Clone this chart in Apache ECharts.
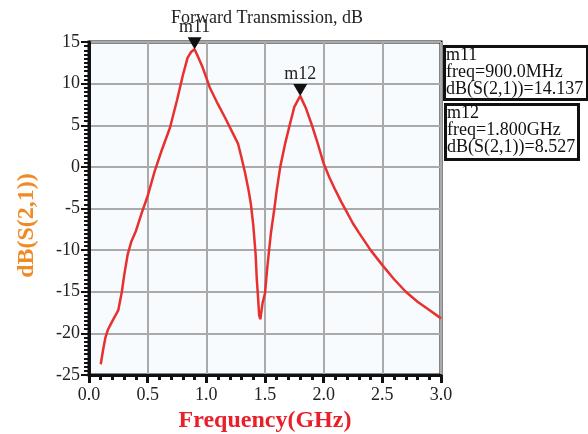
<!DOCTYPE html>
<html>
<head>
<meta charset="utf-8">
<script src="https://cdn.jsdelivr.net/npm/echarts@6/dist/echarts.min.js"></script>
<style>html,body{margin:0;padding:0;background:#fff;}#c{width:588px;height:434px;}</style>
</head>
<body>
<div id="c"></div>
<script>
var freqGHz = [0.10,0.12,0.14,0.16,0.20,0.25,0.28,0.30,0.33,0.36,0.40,0.45,0.50,0.56,0.62,0.69,0.75,0.80,0.84,0.87,0.90,0.93,0.97,1.03,1.10,1.16,1.22,1.27,1.30,1.33,1.36,1.38,1.40,1.42,1.43,1.44,1.45,1.46,1.48,1.50,1.52,1.55,1.58,1.60,1.63,1.67,1.71,1.75,1.80,1.85,1.90,1.95,2.00,2.05,2.10,2.15,2.20,2.25,2.30,2.40,2.50,2.60,2.70,2.80,2.90,3.00];
var s21dB = [-23.7,-22.0,-20.5,-19.6,-18.5,-17.2,-15.0,-13.0,-10.5,-9.0,-7.7,-5.5,-3.5,-0.5,2.0,4.7,8.0,11.0,13.1,13.8,14.137,13.2,11.9,9.5,7.5,5.9,4.2,2.8,1.1,-0.7,-2.8,-4.5,-7.0,-10.5,-13.5,-15.5,-17.8,-18.3,-16.3,-15.2,-12.0,-8.0,-5.0,-2.8,0.0,2.7,5.0,7.2,8.527,7.0,5.0,2.8,0.4,-1.3,-2.8,-4.2,-5.5,-6.8,-7.9,-10.0,-11.8,-13.5,-15.0,-16.2,-17.2,-18.2];
var markerNames = ['m11','m12'];
var markerFreqGHz = [0.9, 1.8];
var markerValues = [14.137, 8.527];
var xTickLabels = ['0.0','0.5','1.0','1.5','2.0','2.5','3.0'];
var yTicks = [-25,-20,-15,-10,-5,0,5,10,15];

var serif = '"Liberation Serif","DejaVu Serif",serif';
var lineData = freqGHz.map(function(f,i){return [f, s21dB[i]];});
function freqText(f){ return f < 1 ? (f*1000).toFixed(1)+'MHz' : f.toFixed(3)+'GHz'; }

var boxes = [
  {x:443, y:45, w:143, h:53},
  {x:444, y:103, w:133, h:55}
];
var graphics = [];
markerNames.forEach(function(n,i){
  var b = boxes[i];
  graphics.push({type:'rect', left:b.x, top:b.y, shape:{width:b.w, height:b.h},
    style:{fill:'#fff', stroke:'#111', lineWidth:3}, z:10});
  graphics.push({type:'text', left:b.x+3, top:b.y+1, z:11,
    style:{text:n+'\nfreq='+freqText(markerFreqGHz[i])+'\ndB(S(2,1))='+markerValues[i].toFixed(3),
      font:'18px '+serif, fill:'#111', lineHeight:17}});
});

var chart = echarts.init(document.getElementById('c'));
chart.setOption({
  animation:false,
  backgroundColor:'#fff',
  title:{text:'Forward Transmission, dB', left:262, top:4, textAlign:'center',
    textStyle:{fontFamily:serif, fontSize:18, fontWeight:'normal', color:'#222'}},
  grid:{left:89, right:147, top:42, bottom:59, containLabel:false, outerBoundsMode:'none',
    show:true, backgroundColor:'#f8fbfd', borderColor:'#111', borderWidth:3},
  xAxis:{type:'value', min:0, max:3, interval:0.5,
    name:'Frequency(GHz)', nameLocation:'middle', nameGap:30,
    nameTextStyle:{fontFamily:serif, fontSize:24, fontWeight:'bold', color:'#e8202a'},
    axisLine:{onZero:false, lineStyle:{color:'#111', width:3}},
    axisTick:{show:true, length:8, lineStyle:{color:'#111', width:3}},
    minorTick:{show:true, splitNumber:5, length:5, lineStyle:{color:'#111', width:3}},
    axisLabel:{fontFamily:serif, fontSize:18, color:'#222', margin:11,
      formatter:function(v){ var i=Math.round(v/0.5); return xTickLabels[i]; }},
    splitLine:{show:true, lineStyle:{color:'#aaa', width:2}}},
  yAxis:{type:'value', min:yTicks[0], max:yTicks[yTicks.length-1], interval:5,
    name:'dB(S(2,1))', nameLocation:'middle', nameGap:50, nameRotate:90,
    nameTextStyle:{fontFamily:serif, fontSize:24, fontWeight:'bold', color:'#f08a24', padding:[0,0,0,-34]},
    axisLine:{show:true, onZero:false, lineStyle:{color:'#111', width:3}},
    axisTick:{show:true, length:8, lineStyle:{color:'#111', width:2}},
    minorTick:{show:true, splitNumber:10, length:5, lineStyle:{color:'#111', width:2}},
    axisLabel:{fontFamily:serif, fontSize:18, color:'#222', margin:9},
    splitLine:{show:true, lineStyle:{color:'#aaa', width:2}}},
  series:[{
    type:'line', data:lineData, showSymbol:false, smooth:false,
    lineStyle:{color:'#e8302e', width:2.5},
    markPoint:{
      symbol:'triangle', symbolRotate:180, symbolSize:[14,12], symbolOffset:[0,-6],
      itemStyle:{color:'#111'},
      label:{show:true, position:'top', distance:1, fontFamily:serif, fontSize:18, color:'#222',
        formatter:function(p){return p.name;}},
      data:markerNames.map(function(n,i){return {name:n, coord:[markerFreqGHz[i], markerValues[i]]};})
    }
  }],
  graphic:graphics
});
</script>
</body>
</html>
